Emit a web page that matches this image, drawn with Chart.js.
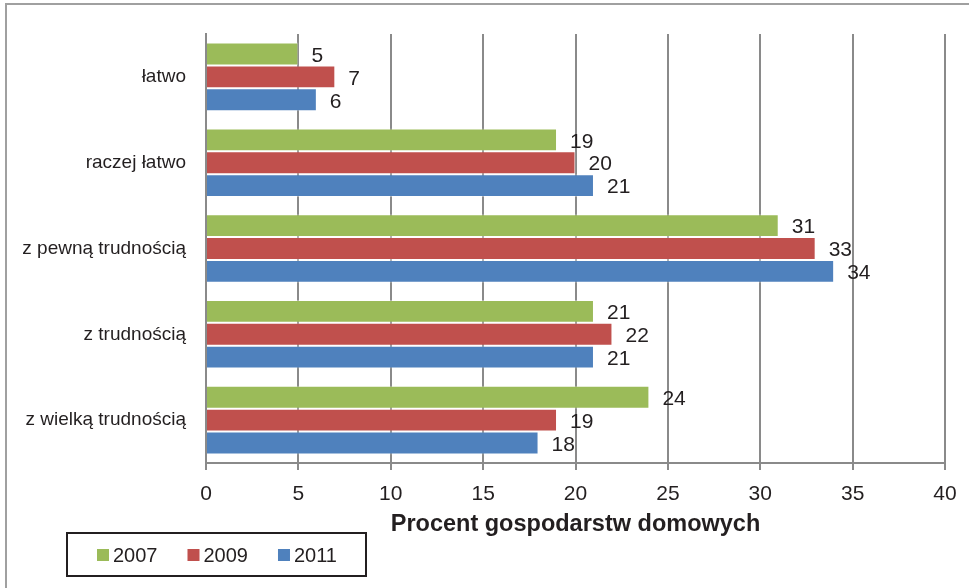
<!DOCTYPE html>
<html lang="pl">
<head>
<meta charset="utf-8">
<title>Procent gospodarstw domowych</title>
<script src="https://cdn.jsdelivr.net/npm/chart.js@4/dist/chart.umd.min.js"></script>
<style>
  html, body { margin: 0; padding: 0; background: #ffffff; }
  #wrap { position: relative; width: 969px; height: 588px; }
</style>
</head>
<body>
<div id="wrap"><canvas id="chart" width="969" height="588"></canvas></div>
<script>
// Categories (answers) and yearly shares of households, in percent
const categories = ['łatwo', 'raczej łatwo', 'z pewną trudnością', 'z trudnością', 'z wielką trudnością'];
const years = ['2007', '2009', '2011'];
const values2007 = [5, 19, 31, 21, 24];
const values2009 = [7, 20, 33, 22, 19];
const values2011 = [6, 21, 34, 21, 18];
const xTicks = [0, 5, 10, 15, 20, 25, 30, 35, 40];
const axisTitle = 'Procent gospodarstw domowych';

const colors = ['#9bbb59', '#c0504d', '#4f81bd'];
const textColor = '#231f20';
const gridColor = '#8a8a8a';
const fontFamily = '"Liberation Sans", Arial, sans-serif';

// Numbers printed just past the end of each bar
const valueLabels = {
  id: 'valueLabels',
  afterDatasetsDraw(chart) {
    const ctx = chart.ctx;
    ctx.save();
    ctx.font = '21px ' + fontFamily;
    ctx.fillStyle = textColor;
    ctx.textAlign = 'left';
    ctx.textBaseline = 'middle';
    chart.data.datasets.forEach((ds, i) => {
      chart.getDatasetMeta(i).data.forEach((bar, j) => {
        ctx.fillText(String(ds.data[j]), bar.x + 13, bar.y + 2);
      });
    });
    ctx.restore();
  }
};

// Frame lines along the top and left edge of the figure
const frame = {
  id: 'frame',
  beforeDraw(chart) {
    const ctx = chart.ctx;
    ctx.save();
    ctx.strokeStyle = '#a0a0a0';
    ctx.lineWidth = 2;
    ctx.beginPath();
    ctx.moveTo(6, chart.height);
    ctx.lineTo(6, 4);
    ctx.lineTo(chart.width, 4);
    ctx.stroke();
    ctx.restore();
  }
};

// Boxed legend in the lower-left corner
const boxedLegend = {
  id: 'boxedLegend',
  afterDraw(chart) {
    const ctx = chart.ctx;
    ctx.save();
    ctx.strokeStyle = '#231f20';
    ctx.lineWidth = 2;
    ctx.strokeRect(67, 533, 299, 43);
    ctx.font = '20px ' + fontFamily;
    ctx.textAlign = 'left';
    ctx.textBaseline = 'middle';
    let x = 97;
    const cy = 555;
    chart.data.datasets.forEach(ds => {
      ctx.fillStyle = ds.backgroundColor;
      ctx.fillRect(x, cy - 6, 12, 12);
      ctx.fillStyle = textColor;
      ctx.fillText(ds.label, x + 16, cy + 1);
      x += 16 + ctx.measureText(ds.label).width + 30;
    });
    ctx.restore();
  }
};

const seriesValues = [values2007, values2009, values2011];

new Chart(document.getElementById('chart'), {
  type: 'bar',
  data: {
    labels: categories,
    datasets: years.map((y, i) => ({
      label: y,
      data: seriesValues[i],
      backgroundColor: colors[i],
      borderColor: 'rgba(255,255,255,0.35)',
      borderWidth: 1,
      categoryPercentage: 0.8,
      barPercentage: 1.0
    }))
  },
  options: {
    indexAxis: 'y',
    responsive: false,
    animation: false,
    events: [],
    layout: { padding: { top: 34, right: 24, bottom: 50, left: 0 } },
    plugins: {
      legend: { display: false },
      tooltip: { enabled: false }
    },
    scales: {
      x: {
        type: 'linear',
        min: 0,
        max: 40,
        afterBuildTicks(scale) { scale.ticks = xTicks.map(v => ({ value: v })); },
        afterFit(scale) { scale.height = 75; },
        grid: { color: gridColor, lineWidth: 2, tickLength: 7, drawTicks: true },
        border: { color: gridColor, width: 2 },
        ticks: {
          color: textColor,
          font: { family: fontFamily, size: 21 },
          padding: 12,
          maxRotation: 0
        },
        title: {
          display: true,
          text: axisTitle,
          color: textColor,
          font: { family: fontFamily, size: 23.5, weight: 'bold' },
          padding: { top: 0, bottom: -1 }
        }
      },
      y: {
        afterFit(scale) { scale.width = 206; },
        grid: { display: false, drawTicks: false },
        border: { color: gridColor, width: 2 },
        ticks: {
          color: textColor,
          font: { family: fontFamily, size: 19 },
          padding: 20
        }
      }
    }
  },
  plugins: [frame, valueLabels, boxedLegend]
});
</script>
</body>
</html>
